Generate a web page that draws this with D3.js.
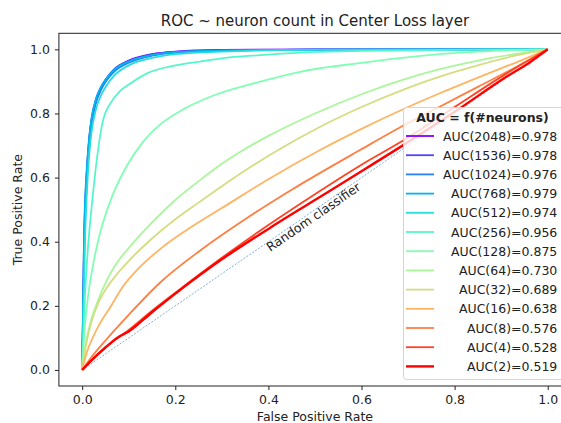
<!DOCTYPE html>
<html><head><meta charset="utf-8">
<script src="https://cdn.jsdelivr.net/npm/d3@7"></script>
<style>body{margin:0;background:#fff;} svg{display:block;font-family:"DejaVu Sans",sans-serif;}</style>
</head><body><svg id="c" width="561" height="423"></svg>
<script>
// ---- data ----
const neurons = [2048, 1536, 1024, 768, 512, 256, 128, 64, 32, 16, 8, 4, 2];
const aucLabels = ["0.978", "0.978", "0.976", "0.979", "0.974", "0.956", "0.875", "0.730", "0.689", "0.638", "0.576", "0.528", "0.519"];
const xTicks = [0.0, 0.2, 0.4, 0.6, 0.8, 1.0];
const yTicks = [0.0, 0.2, 0.4, 0.6, 0.8, 1.0];
const titleText = "ROC ~ neuron count in Center Loss layer";
const xLabel = "False Positive Rate";
const yLabel = "True Positive Rate";
const legendTitle = "AUC = f(#neurons)";
const randomLabel = "Random classifier";
const randomLine = [[0, 0], [1, 1]];

const roc2048 = [[0,0],[0.002,0.2],[0.004,0.4],[0.006,0.5],[0.01,0.62],[0.015,0.72],[0.02,0.78],[0.03,0.845],[0.04,0.88],[0.05,0.905],[0.07,0.94],[0.1,0.965],[0.15,0.985],[0.2,0.993],[0.3,0.998],[0.5,1],[1,1]];
const roc1536 = [[0,0],[0.002,0.18],[0.004,0.37],[0.006,0.48],[0.01,0.61],[0.015,0.715],[0.02,0.775],[0.03,0.84],[0.04,0.877],[0.05,0.902],[0.07,0.937],[0.1,0.963],[0.15,0.984],[0.2,0.992],[0.3,0.997],[0.5,0.999],[1,1]];
const roc1024 = [[0,0],[0.002,0.15],[0.004,0.33],[0.006,0.45],[0.01,0.59],[0.015,0.7],[0.02,0.765],[0.03,0.835],[0.04,0.872],[0.05,0.898],[0.07,0.932],[0.1,0.958],[0.15,0.98],[0.2,0.99],[0.3,0.996],[0.5,0.999],[1,1]];
const roc768 = [[0,0],[0.002,0.22],[0.004,0.42],[0.006,0.52],[0.01,0.63],[0.015,0.725],[0.02,0.785],[0.03,0.848],[0.04,0.882],[0.05,0.905],[0.07,0.938],[0.1,0.962],[0.15,0.982],[0.2,0.991],[0.3,0.996],[0.5,0.999],[1,1]];
const roc512 = [[0,0],[0.002,0.12],[0.004,0.28],[0.006,0.4],[0.01,0.55],[0.015,0.67],[0.02,0.74],[0.03,0.815],[0.04,0.855],[0.05,0.882],[0.07,0.92],[0.1,0.95],[0.15,0.973],[0.2,0.985],[0.3,0.993],[0.5,0.998],[1,1]];
const roc256 = [[0,0],[0.005,0.2],[0.01,0.33],[0.024,0.56],[0.045,0.78],[0.06,0.83],[0.081,0.87],[0.1,0.89],[0.139,0.925],[0.2,0.95],[0.253,0.962],[0.3,0.972],[0.382,0.982],[0.468,0.99],[0.6,0.995],[0.8,0.998],[1,1]];
const roc128 = [[0,0],[0.003,0.08],[0.008,0.17],[0.015,0.255],[0.025,0.34],[0.038,0.425],[0.06,0.525],[0.096,0.637],[0.13,0.71],[0.167,0.765],[0.22,0.815],[0.275,0.852],[0.382,0.899],[0.468,0.93],[0.6,0.958],[0.768,0.985],[0.9,0.996],[1,1]];
const roc64 = [[0,0],[0.005,0.06],[0.01,0.1],[0.02,0.16],[0.035,0.22],[0.053,0.28],[0.075,0.335],[0.1,0.38],[0.15,0.46],[0.2,0.53],[0.253,0.592],[0.3,0.643],[0.346,0.686],[0.4,0.73],[0.5,0.8],[0.6,0.86],[0.7,0.91],[0.768,0.938],[0.85,0.965],[0.93,0.985],[1,1]];
const roc32 = [[0,0],[0.005,0.05],[0.01,0.09],[0.02,0.15],[0.035,0.21],[0.05,0.25],[0.067,0.285],[0.1,0.34],[0.15,0.41],[0.2,0.47],[0.253,0.525],[0.3,0.573],[0.35,0.622],[0.421,0.686],[0.5,0.75],[0.6,0.82],[0.7,0.88],[0.768,0.915],[0.85,0.95],[0.93,0.98],[1,1]];
const roc16 = [[0,0],[0.01,0.055],[0.024,0.105],[0.04,0.15],[0.06,0.195],[0.085,0.255],[0.12,0.315],[0.17,0.38],[0.22,0.432],[0.253,0.463],[0.3,0.505],[0.4,0.595],[0.511,0.686],[0.6,0.752],[0.7,0.82],[0.768,0.863],[0.85,0.912],[0.93,0.958],[1,1]];
const roc8 = [[0,0],[0.02,0.04],[0.05,0.092],[0.1,0.172],[0.167,0.272],[0.253,0.372],[0.35,0.47],[0.45,0.562],[0.597,0.686],[0.7,0.77],[0.768,0.821],[0.85,0.883],[0.93,0.943],[1,1]];
const roc4 = [[0,0],[0.02,0.03],[0.05,0.07],[0.1,0.125],[0.15,0.185],[0.21,0.252],[0.3,0.35],[0.4,0.452],[0.5,0.548],[0.6,0.64],[0.683,0.71],[0.8,0.82],[0.912,0.925],[1,1]];
const roc2 = [[0,0],[0.02,0.03],[0.05,0.07],[0.075,0.1],[0.1,0.12],[0.15,0.18],[0.21,0.249],[0.3,0.345],[0.4,0.44],[0.5,0.53],[0.6,0.62],[0.683,0.695],[0.8,0.805],[0.912,0.915],[0.962,0.96],[1,1]];
const rocCurves = [roc2048, roc1536, roc1024, roc768, roc512, roc256, roc128, roc64, roc32, roc16, roc8, roc4, roc2];

// ---- drawing ----
const svg = d3.select("#c");
const x = d3.scaleLinear().domain([-0.05, 1.05]).range([58.9, 571]);
const y = d3.scaleLinear().domain([-0.05, 1.05]).range([386, 33.3]);
const FS = 12.5;

// matplotlib 'rainbow' colormap
function rainbow(t) {
  const r = Math.min(1, Math.abs(2 * t - 0.5));
  const g = Math.sin(Math.PI * t);
  const b = Math.cos(Math.PI * t / 2);
  return d3.rgb(r * 255, g * 255, b * 255).formatHex();
}
const colors = neurons.map((d, i) => rainbow(i / (neurons.length - 1)));

svg.append("defs").append("clipPath").attr("id", "clip")
  .append("rect").attr("x", x(-0.05)).attr("y", y(1.05)).attr("width", x(1.05) - x(-0.05)).attr("height", y(-0.05) - y(1.05));

const plot = svg.append("g").attr("clip-path", "url(#clip)");

// random classifier
plot.append("path")
  .attr("d", d3.line().x(d => x(d[0])).y(d => y(d[1]))(randomLine))
  .attr("fill", "none").attr("stroke", "#5f9bd6").attr("stroke-width", 0.8)
  .attr("stroke-dasharray", "2,1.5");

const line = d3.line().x(d => x(d[0])).y(d => y(d[1])).curve(d3.curveMonotoneX);
rocCurves.forEach((c, i) => {
  plot.append("path").attr("d", line(c))
    .attr("fill", "none").attr("stroke", colors[i])
    .attr("stroke-width", i === rocCurves.length - 1 ? 2.4 : 1.8)
    .attr("stroke-linejoin", "round");
});

// random classifier label
const ang = Math.atan2(y(1) - y(0), x(1) - x(0)) * 180 / Math.PI;
const lx = x(0.502), ly = y(0.466);
svg.append("text").attr("x", lx).attr("y", ly)
  .attr("transform", `rotate(${ang},${lx},${ly})`)
  .attr("text-anchor", "middle").attr("font-size", FS).attr("fill", "#222")
  .text(randomLabel);

// axes
const xAxis = svg.append("g").attr("transform", `translate(0,${y(-0.05)})`)
  .call(d3.axisBottom(x).tickValues(xTicks).tickFormat(d3.format(".1f")).tickSize(4).tickPadding(5));
const yAxis = svg.append("g").attr("transform", `translate(${x(-0.05)},0)`)
  .call(d3.axisLeft(y).tickValues(yTicks).tickFormat(d3.format(".1f")).tickSize(4).tickPadding(5));
[xAxis, yAxis].forEach(a => {
  a.select(".domain").remove();
  a.selectAll("text").attr("font-size", FS).attr("fill", "#222").attr("font-family", "DejaVu Sans");
  a.selectAll("line").attr("stroke", "#222").attr("stroke-width", 1);
});

// spines
svg.append("rect").attr("x", x(-0.05)).attr("y", y(1.05))
  .attr("width", x(1.05) - x(-0.05)).attr("height", y(-0.05) - y(1.05))
  .attr("fill", "none").attr("stroke", "#222").attr("stroke-width", 1);

// titles
svg.append("text").attr("x", (x(-0.05) + x(1.05)) / 2).attr("y", 25.7)
  .attr("text-anchor", "middle").attr("font-size", 15).attr("fill", "#222").text(titleText);
svg.append("text").attr("x", (x(-0.05) + x(1.05)) / 2).attr("y", 421)
  .attr("text-anchor", "middle").attr("font-size", FS).attr("fill", "#222").text(xLabel);
svg.append("text").attr("transform", `translate(22,${(y(-0.05) + y(1.05)) / 2}) rotate(-90)`)
  .attr("text-anchor", "middle").attr("font-size", FS).attr("fill", "#222").text(yLabel);

// legend
const lg = svg.append("g");
const lgX = 403.5, lgY = 107.5, lgW = 162, lgH = 272;
lg.append("rect").attr("x", lgX).attr("y", lgY).attr("width", lgW).attr("height", lgH)
  .attr("rx", 3).attr("fill", "#fff").attr("fill-opacity", 0.8)
  .attr("stroke", "#d4d4d4").attr("stroke-width", 1);
lg.append("text").attr("x", 482.5).attr("y", 121.7).attr("text-anchor", "middle")
  .attr("font-size", FS).attr("font-weight", "bold").attr("fill", "#222").text(legendTitle);
neurons.forEach((n, i) => {
  const cy = 136 + i * 19.2;
  lg.append("line").attr("x1", 406).attr("x2", 434).attr("y1", cy).attr("y2", cy)
    .attr("stroke", colors[i]).attr("stroke-width", i === neurons.length - 1 ? 2.4 : 1.8);
  lg.append("text").attr("x", 557.3).attr("y", cy + 4.6).attr("text-anchor", "end")
    .attr("font-size", FS).attr("fill", "#222").text(`AUC(${n})=${aucLabels[i]}`);
});
</script></body></html>
